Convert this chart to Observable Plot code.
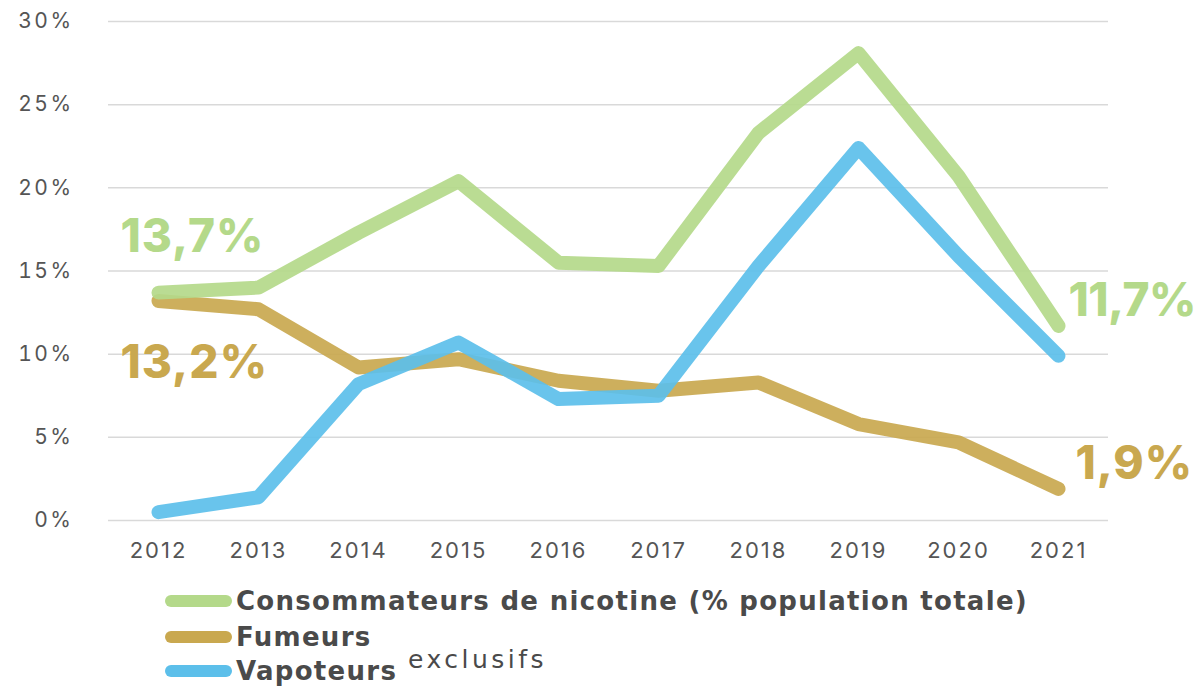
<!DOCTYPE html>
<html><head><meta charset="utf-8">
<script src="https://cdn.jsdelivr.net/npm/d3@7"></script>
<script src="https://cdn.jsdelivr.net/npm/@observablehq/plot@0.6"></script>
<style>
html,body{margin:0;padding:0;background:#fff;}
#wrap{position:relative;width:1199px;height:686px;overflow:hidden;font-family:Inter,"Open Sans",sans-serif;}
#chart{position:absolute;left:0;top:0;}
.row{position:absolute;left:165px;height:30px;display:flex;align-items:center;font-family:"DejaVu Sans",sans-serif;font-weight:700;font-size:26px;color:#4a4a4a;white-space:nowrap;}
.sw{width:67px;height:12px;border-radius:6px;margin-right:4px;flex:none;}
.sup{position:absolute;font-family:"DejaVu Sans",sans-serif;font-weight:400;font-size:25px;color:#4a4a4a;white-space:nowrap;}
</style></head>
<body><div id="wrap"><div id="chart"></div><div id="legend"></div></div>
<script>
const years = [2012, 2013, 2014, 2015, 2016, 2017, 2018, 2019, 2020, 2021];
const consommateurs = [13.7, 14.0, 17.3, 20.4, 15.5, 15.3, 23.3, 28.1, 20.7, 11.7];
const fumeurs = [13.2, 12.7, 9.2, 9.7, 8.4, 7.8, 8.3, 5.8, 4.7, 1.9];
const vapoteurs = [0.5, 1.4, 8.2, 10.7, 7.3, 7.5, 15.3, 22.4, 15.9, 9.9];
const seriesNames = ["Consommateurs de nicotine (% population totale)", "Fumeurs", "Vapoteurs"];
const seriesColors = ["#b4d98a", "#c9a84f", "#5cbfea"];
const yTicks = [0, 5, 10, 15, 20, 25, 30];

const toRows = (name, vals) => years.map((y, i) => ({series: name, year: y, value: vals[i]}));
const rowsC = toRows(seriesNames[0], consommateurs);
const rowsF = toRows(seriesNames[1], fumeurs);
const rowsV = toRows(seriesNames[2], vapoteurs);

const fmt = v => v.toFixed(1).replace(".", ",") + "%";
const first = rows => [rows[0]];
const last = rows => [rows[rows.length - 1]];

const lineOpts = {x: "year", y: "value", stroke: "series", strokeWidth: 14, strokeLinecap: "round", strokeLinejoin: "round", strokeOpacity: 0.92};
const labelOpts = {x: "year", y: "value", text: d => fmt(d.value), fill: "series", fontSize: 46, fontWeight: 800, textAnchor: "start"};

const plot = Plot.plot({
  width: 1199, height: 575,
  marginLeft: 108, marginRight: 91, marginTop: 21, marginBottom: 55,
  style: {fontFamily: "Inter, 'Open Sans', sans-serif", fontSize: "21px", color: "#555", background: "transparent"},
  x: {type: "point", domain: years, padding: 0.5},
  y: {domain: [0, 30]},
  color: {domain: seriesNames, range: seriesColors},
  marks: [
    Plot.gridY(yTicks, {stroke: "#d9d9d9", strokeOpacity: 1, strokeWidth: 1.5}),
    Plot.axisY(yTicks, {tickSize: 0, tickPadding: 35, tickFormat: d => d + "%", label: null, fill: "#555", fontSize: 21}),
    Plot.axisX(years, {tickSize: 0, tickPadding: 22, tickFormat: d => String(d), label: null, fill: "#555", fontSize: 22}),
    Plot.line(rowsF, lineOpts),
    Plot.line(rowsV, lineOpts),
    Plot.line(rowsC, lineOpts),
    Plot.text(first(rowsC), {...labelOpts, dx: -38, dy: -55}),
    Plot.text(first(rowsF), {...labelOpts, dx: -38, dy: 62}),
    Plot.text(last(rowsC), {...labelOpts, dx: 10, dy: -25}),
    Plot.text(last(rowsF), {...labelOpts, dx: 17, dy: -25})
  ]
});
document.getElementById("chart").appendChild(plot);

// letter spacing per text group
plot.querySelectorAll('g[aria-label="y-axis tick label"] text').forEach(t => t.setAttribute("letter-spacing", "2.5px"));
plot.querySelectorAll('g[aria-label="x-axis tick label"] text').forEach(t => t.setAttribute("letter-spacing", "2px"));
const labelGroups = plot.querySelectorAll('g[aria-label="text"]');
labelGroups.forEach((g, i) => g.querySelectorAll("text").forEach(t => t.setAttribute("letter-spacing", i === 2 ? "-0.5px" : "1px")));

const legend = document.getElementById("legend");
const rowCenters = [601, 637, 671];
const legendLabels = ["Consommateurs de nicotine (% population totale)", "Fumeurs", "Vapoteurs"];
const spans = [];
legendLabels.forEach((lab, i) => {
  const r = document.createElement("div");
  r.className = "row";
  r.style.top = (rowCenters[i] - 15) + "px";
  const sw = document.createElement("div");
  sw.className = "sw";
  sw.style.background = seriesColors[i];
  r.appendChild(sw);
  const t = document.createElement("span");
  t.textContent = lab;
  r.appendChild(t);
  legend.appendChild(r);
  spans.push(t);
});
// fit first legend row to its width in the reference, share spacing
const w0 = spans[0].getBoundingClientRect().width;
const ls = (792 - w0) / legendLabels[0].length;
spans.forEach(s => s.style.letterSpacing = ls + "px");

const sup = document.createElement("div");
sup.className = "sup";
sup.textContent = "exclusifs";
sup.style.left = "408px";
sup.style.top = "645px";
legend.appendChild(sup);
const ws = sup.getBoundingClientRect().width;
sup.style.letterSpacing = ((139 - ws) / 9) + "px";
</script>
</body></html>
